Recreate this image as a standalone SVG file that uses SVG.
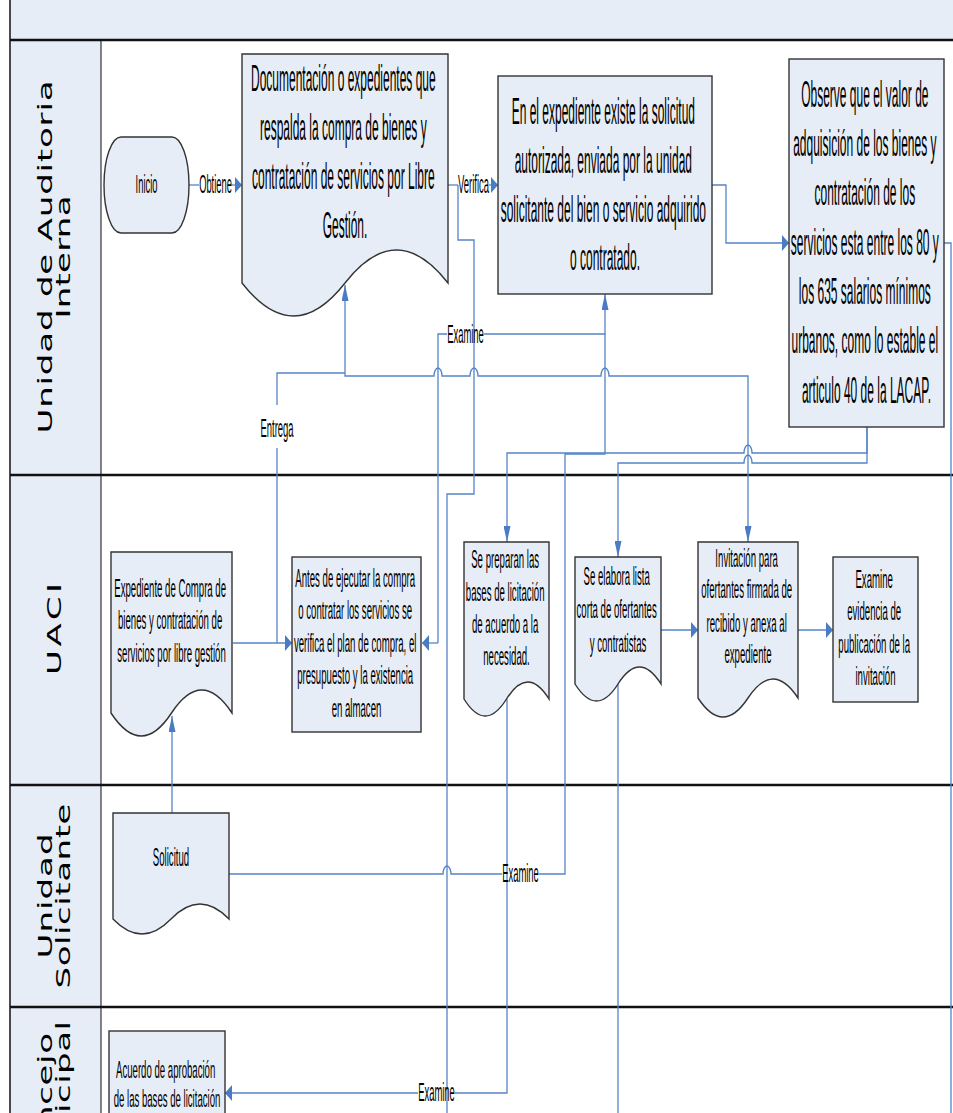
<svg xmlns="http://www.w3.org/2000/svg" width="953" height="1113" viewBox="0 0 953 1113">
  <style>
    .lane-fill { fill: #E6EDF7; }
    .sep { stroke: #111; stroke-width: 2.5; }
    .node { fill: #E6EDF7; stroke: #333; stroke-width: 1.4; }
    .txt { font-family: 'Liberation Sans', Arial, sans-serif; fill: #000; text-anchor: middle; }
    .big { font-size: 37.5px; }
    .small { font-size: 25px; }
    .lbl { font-size: 25px; }
    .lane { font-family: 'DejaVu Sans', 'Liberation Sans', sans-serif; font-size: 34px; fill: #000; text-anchor: middle; }
    .conn { fill: none; stroke: #5584C6; stroke-width: 1.3; }
  </style>
  <defs>
    <marker id="arrowH" viewBox="0 0 7 16" refX="7" refY="8" markerWidth="7" markerHeight="16" markerUnits="userSpaceOnUse" orient="auto">
      <path d="M0,0 L7,8 L0,16 Z" fill="#4A7CC4"/>
    </marker>
    <marker id="arrowV" viewBox="0 0 16 7" refX="16" refY="3.5" markerWidth="16" markerHeight="7" markerUnits="userSpaceOnUse" orient="auto-start-reverse">
      <path d="M0,0 L16,3.5 L0,7 Z" fill="#4A7CC4"/>
    </marker>
  </defs>

  <rect x="0" y="0" width="953" height="1113" fill="#fff"/>

  <!-- pool header and lane title column -->
  <g id="lanes">
    <rect class="lane-fill" x="10" y="0" width="943" height="40"/>
    <rect class="lane-fill" x="10" y="40" width="91" height="1073"/>
    <line x1="101" y1="40" x2="101" y2="1113" stroke="#333" stroke-width="1.2"/>
    <line x1="10" y1="0" x2="10" y2="1113" stroke="#111" stroke-width="1.5"/>
    <line class="sep" x1="10" y1="40" x2="953" y2="40"/>
    <line class="sep" x1="10" y1="475" x2="953" y2="475"/>
    <line class="sep" x1="10" y1="785" x2="953" y2="785"/>
    <line class="sep" x1="10" y1="1007" x2="953" y2="1007"/>
    <text class="lane" transform="translate(52,257) rotate(-90) scale(1,0.56)" textLength="353" lengthAdjust="spacing">Unidad de Auditoria</text>
    <text class="lane" transform="translate(70,257) rotate(-90) scale(1,0.56)" textLength="123" lengthAdjust="spacing">Interna</text>
    <text class="lane" transform="translate(61,629) rotate(-90) scale(1,0.56)" textLength="92" lengthAdjust="spacing">UACI</text>
    <text class="lane" transform="translate(52,896) rotate(-90) scale(1,0.56)" textLength="125" lengthAdjust="spacing">Unidad</text>
    <text class="lane" transform="translate(70,896) rotate(-90) scale(1,0.56)" textLength="185" lengthAdjust="spacing">Solicitante</text>
    <text class="lane" transform="translate(52,1103) rotate(-90) scale(1,0.56)" textLength="140" lengthAdjust="spacing">Concejo</text>
    <text class="lane" transform="translate(70,1104) rotate(-90) scale(1,0.56)" textLength="166" lengthAdjust="spacing">Municipal</text>
  </g>

  <!-- connectors -->
  <g id="connectors">
    <path class="conn" d="M189,185 H199"/>
    <path class="conn" d="M232,185 H242" marker-end="url(#arrowH)"/>
    <path class="conn" d="M448,185 H458"/>
    <path class="conn" d="M489,185 H498" marker-end="url(#arrowH)"/>
    <path class="conn" d="M458,185 V240 H474 V494 H447 V1113"/>
    <path class="conn" d="M345,285 V376 H434 A4,8 0 0 1 442,376 H470 A4,8 0 0 1 478,376 H601 A4,8 0 0 1 609,376 H748 V542" marker-start="url(#arrowV)" marker-end="url(#arrowV)"/>
    <path class="conn" d="M233,643 H292" marker-end="url(#arrowH)"/>
    <path class="conn" d="M277,643 V448"/>
    <path class="conn" d="M277,405 V373 H345"/>
    <path class="conn" d="M438,643 H422" marker-end="url(#arrowH)"/>
    <path class="conn" d="M438,643 V334 H447"/>
    <path class="conn" d="M484,334 H605 V294" marker-end="url(#arrowV)"/>
    <path class="conn" d="M229,874 H443 A4,8 0 0 1 451,874 H502"/>
    <path class="conn" d="M539,874 H565 V454 H605 V334"/>
    <path class="conn" d="M867,427 V453 H752 A4,8 0 0 0 744,453 H507 V542" marker-end="url(#arrowV)"/>
    <path class="conn" d="M867,427 V463 H752 A4,8 0 0 0 744,463 H618 V557" marker-end="url(#arrowV)"/>
    <path class="conn" d="M712,185 H726 V243 H789" marker-end="url(#arrowH)"/>
    <path class="conn" d="M944,243 H951 V1113"/>
    <path class="conn" d="M661,630 H698" marker-end="url(#arrowH)"/>
    <path class="conn" d="M798,630 H833" marker-end="url(#arrowH)"/>
    <path class="conn" d="M507,699 V1093 H455"/>
    <path class="conn" d="M418,1093 H225" marker-end="url(#arrowH)"/>
    <path class="conn" d="M618,684 V1113"/>
    <path class="conn" d="M172,813 V716" marker-end="url(#arrowV)"/>
    <g class="txt lbl">
      <text transform="translate(215.5,0) scale(0.36,1)" x="0" y="193" style="font-size:26px">Obtiene</text>
      <text transform="translate(473.5,0) scale(0.378,1)" x="0" y="193">Verifica</text>
      <text transform="translate(465.5,0) scale(0.378,1)" x="0" y="343">Examine</text>
      <text transform="translate(277,0) scale(0.378,1)" x="0" y="437">Entrega</text>
      <text transform="translate(520.5,0) scale(0.378,1)" x="0" y="882">Examine</text>
      <text transform="translate(436.5,0) scale(0.378,1)" x="0" y="1101">Examine</text>
    </g>
  </g>

  <g id="inicio">
    <path class="node" d="M121,137 H172 A17,48 0 0 1 172,233 H121 A17,48 0 0 1 121,137 Z"/>
    <text class="txt" style="font-size:26px" transform="translate(146.5,0) scale(0.36,1)" x="0" y="193">Inicio</text>
  </g>

  <g id="documentacion">
    <path class="node" d="M242,54 H448 V283 Q396.5,217 345,283 T242,283 Z"/>
    <text class="txt big" transform="translate(345,0) scale(0.32,1)">
      <tspan x="0" y="91">Documentación o expedientes que</tspan>
      <tspan x="0" y="140">respalda la compra de bienes y</tspan>
      <tspan x="0" y="189">contratación de servicios por Libre</tspan>
      <tspan x="0" y="238">Gestión.</tspan>
    </text>
  </g>

  <g id="solicitud-autorizada">
    <rect class="node" x="498" y="76" width="214" height="218"/>
    <text class="txt big" transform="translate(605,0) scale(0.32,1)">
      <tspan x="0" y="124">En el expediente existe la solicitud</tspan>
      <tspan x="0" y="173">autorizada, enviada por la unidad</tspan>
      <tspan x="0" y="222">solicitante del bien o servicio adquirido</tspan>
      <tspan x="0" y="270">o contratado.</tspan>
    </text>
  </g>

  <g id="valor-adquisicion">
    <rect class="node" x="789" y="59" width="155" height="368"/>
    <text class="txt big" transform="translate(866.5,0) scale(0.32,1)">
      <tspan x="0" y="107">Observe que el valor de</tspan>
      <tspan x="0" y="156">adquisición de los bienes y</tspan>
      <tspan x="0" y="205">contratación de los</tspan>
      <tspan x="0" y="255">servicios esta entre los 80 y</tspan>
      <tspan x="0" y="304">los 635 salarios mínimos</tspan>
      <tspan x="0" y="353">urbanos, como lo estable el</tspan>
      <tspan x="0" y="403">articulo 40 de la LACAP.</tspan>
    </text>
  </g>

  <g id="expediente-compra">
    <path class="node" d="M111,552 H232 V713 Q201.75,667 171.5,713 T111,713 Z"/>
    <text class="txt small" transform="translate(171.5,0) scale(0.385,1)">
      <tspan x="0" y="597">Expediente de Compra de</tspan>
      <tspan x="0" y="629">bienes y contratación de</tspan>
      <tspan x="0" y="662">servicios por libre gestión</tspan>
    </text>
  </g>

  <g id="verificacion-plan">
    <rect class="node" x="292" y="557" width="129" height="175"/>
    <text class="txt small" transform="translate(356.5,0) scale(0.385,1)">
      <tspan x="0" y="587">Antes de ejecutar la compra</tspan>
      <tspan x="0" y="619">o contratar los servicios se</tspan>
      <tspan x="0" y="652">verifica el plan de compra, el</tspan>
      <tspan x="0" y="684">presupuesto y la existencia</tspan>
      <tspan x="0" y="717">en almacen</tspan>
    </text>
  </g>

  <g id="bases-licitacion">
    <path class="node" d="M464,542 H549 V699 Q527.75,665 506.5,699 T464,699 Z"/>
    <text class="txt small" transform="translate(506.5,0) scale(0.385,1)">
      <tspan x="0" y="568">Se preparan las</tspan>
      <tspan x="0" y="601">bases de licitación</tspan>
      <tspan x="0" y="633">de acuerdo a la</tspan>
      <tspan x="0" y="665">necesidad.</tspan>
    </text>
  </g>

  <g id="lista-corta">
    <path class="node" d="M575,557 H661 V684 Q639.5,650 618,684 T575,684 Z"/>
    <text class="txt small" transform="translate(618,0) scale(0.385,1)">
      <tspan x="0" y="585">Se elabora lista</tspan>
      <tspan x="0" y="618">corta de ofertantes</tspan>
      <tspan x="0" y="652">y contratistas</tspan>
    </text>
  </g>

  <g id="invitacion">
    <path class="node" d="M698,542 H798 V698 Q773,660 748,698 T698,698 Z"/>
    <text class="txt small" transform="translate(748,0) scale(0.385,1)">
      <tspan x="0" y="567">Invitación para</tspan>
      <tspan x="0" y="598">ofertantes firmada de</tspan>
      <tspan x="0" y="632">recibido y anexa al</tspan>
      <tspan x="0" y="663">expediente</tspan>
    </text>
  </g>

  <g id="evidencia-publicacion">
    <rect class="node" x="833" y="557" width="85" height="145"/>
    <text class="txt small" transform="translate(875.5,0) scale(0.385,1)">
      <tspan x="0" y="588">Examine</tspan>
      <tspan x="0" y="620">evidencia de</tspan>
      <tspan x="0" y="653">publicación de la</tspan>
      <tspan x="0" y="685">invitación</tspan>
    </text>
  </g>

  <g id="solicitud">
    <path class="node" d="M113,813 H229 V919 Q200,889 171,919 T113,919 Z"/>
    <text class="txt small" transform="translate(171,0) scale(0.385,1)" x="0" y="866">Solicitud</text>
  </g>

  <g id="acuerdo-aprobacion">
    <rect class="node" x="109" y="1031" width="116" height="100"/>
    <text class="txt small" style="font-size:24px" transform="translate(167,0) scale(0.4,1)">
      <tspan x="0" y="1078">Acuerdo de aprobación</tspan>
      <tspan x="0" y="1107">de las bases de licitación</tspan>
    </text>
  </g>
</svg>
